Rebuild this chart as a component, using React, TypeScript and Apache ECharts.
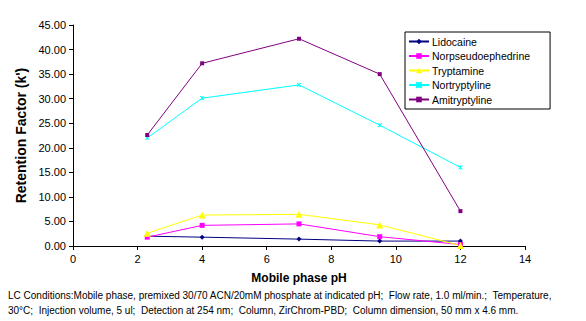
import React, { useEffect, useRef } from "react";
import * as echarts from "echarts";

const phValues = [2.3, 4, 7, 9.5, 12];
const lidocaine = [2.0, 1.8, 1.4, 1.0, 1.0];
const norpseudoephedrine = [1.8, 4.2, 4.5, 1.9, 0.3];
const tryptamine = [2.6, 6.3, 6.45, 4.3, 0.1];
const nortriptyline = [22.0, 30.1, 32.8, 24.6, 16.0];
const amitriptyline = [22.6, 37.2, 42.2, 35.0, 7.1];

const seriesNames = ["Lidocaine", "Norpseudoephedrine", "Tryptamine", "Nortryptyline", "Amitryptyline"];
const seriesData = [lidocaine, norpseudoephedrine, tryptamine, nortriptyline, amitriptyline];
const seriesColors = ["#000080", "#FF00FF", "#FFFF00", "#00FFFF", "#800080"];
const seriesSymbols = ["diamond", "rect", "triangle", "path://M0,0L10,10M10,0L0,10M5,0L5,10", "rect"];
const seriesSymbolSizes = [5, 5, 7, 4, 4];

const captionLine1 = "LC Conditions:Mobile phase, premixed 30/70 ACN/20mM phosphate at indicated pH;  Flow rate, 1.0 ml/min.;  Temperature,";
const captionLine2 = "30°C;  Injection volume, 5 ul;  Detection at 254 nm;  Column, ZirChrom-PBD;  Column dimension, 50 mm x 4.6 mm.";

export default function App() {
  const ref = useRef<HTMLDivElement>(null);
  useEffect(() => {
    document.body.style.margin = "0";
    const chart = echarts.init(ref.current!, null, { renderer: "svg" });
    const font = "Liberation Sans, Arial, sans-serif";
    chart.setOption({
      animation: false,
      backgroundColor: "#ffffff",
      textStyle: { fontFamily: font },
      grid: { left: 73, right: 61, top: 25, bottom: 75, containLabel: false },
      legend: {
        orient: "vertical",
        left: 405,
        top: 32,
        itemWidth: 20,
        itemHeight: 7,
        itemGap: 3.5,
        padding: [4, 20, 4, 3],
        borderColor: "#000",
        borderWidth: 1,
        textStyle: { fontSize: 10.5, color: "#000", fontFamily: font, padding: [0, 0, 0, -2] },
        data: seriesNames,
      },
      xAxis: {
        type: "value",
        min: 0,
        max: 14,
        interval: 2,
        splitLine: { show: false },
        axisLine: { lineStyle: { color: "#000", width: 1 } },
        axisTick: { show: true, length: 4, lineStyle: { color: "#000" } },
        axisLabel: { color: "#000", fontSize: 11, margin: 7, fontFamily: font },
        name: "Mobile phase pH",
        nameLocation: "middle",
        nameGap: 26,
        nameTextStyle: { fontWeight: "bold", fontSize: 12, color: "#000", fontFamily: font },
      },
      yAxis: {
        type: "value",
        min: 0,
        max: 45,
        interval: 5,
        splitLine: { show: false },
        axisLine: { show: true, lineStyle: { color: "#000", width: 1 } },
        axisTick: { show: true, length: 4, lineStyle: { color: "#000" } },
        axisLabel: {
          color: "#000",
          fontSize: 11,
          margin: 7,
          fontFamily: font,
          formatter: (v: number) => v.toFixed(2),
        },
        name: "Retention Factor (k')",
        nameLocation: "middle",
        nameGap: 45,
        nameTextStyle: { fontWeight: "bold", fontSize: 14, color: "#000", fontFamily: font },
      },
      series: seriesNames.map((name, i) => ({
        name,
        type: "line",
        data: phValues.map((x, j) => [x, seriesData[i][j]]),
        symbol: seriesSymbols[i],
        symbolSize: seriesSymbolSizes[i],
        showAllSymbol: true,
        lineStyle: { color: seriesColors[i], width: 1 },
        itemStyle: { color: seriesColors[i], borderColor: seriesColors[i], borderWidth: i === 3 ? 1 : 0 },
        emphasis: { disabled: true },
      })),
      graphic: [
        {
          type: "text",
          left: 8,
          top: 290,
          style: { text: captionLine1, fontSize: 10, fill: "#000", fontFamily: font },
        },
        {
          type: "text",
          left: 8,
          top: 305,
          style: { text: captionLine2, fontSize: 10, fill: "#000", fontFamily: font },
        },
      ],
    });
    return () => chart.dispose();
  }, []);
  return <div ref={ref} style={{ width: 586, height: 321 }} />;
}
